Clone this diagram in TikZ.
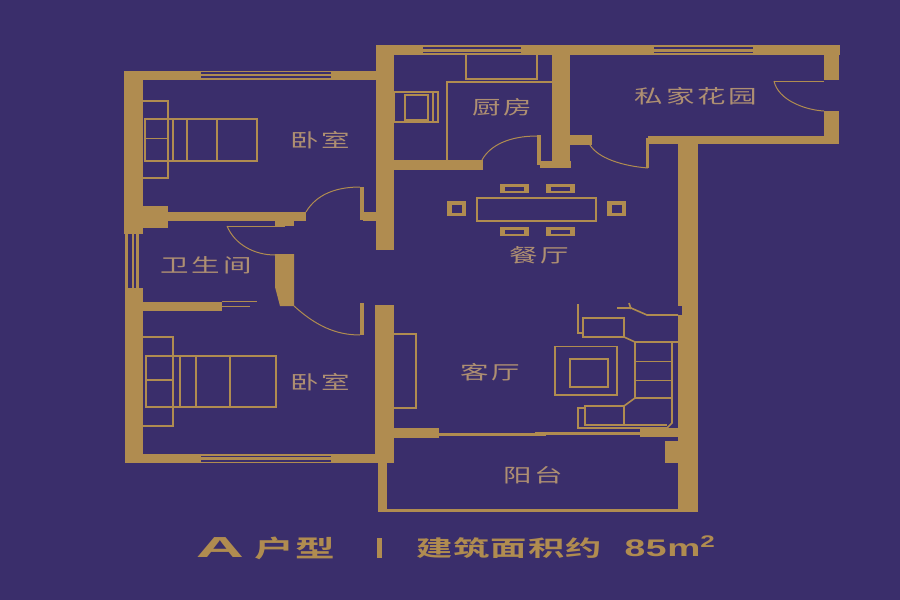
\documentclass[tikz,border=0pt]{standalone}
\usepackage{fontspec}
\newfontfamily\roomfont[FakeStretch=1.5,LetterSpace=15]{Noto Sans CJK SC}
\newfontfamily\titlefont[FakeStretch=1.65,LetterSpace=5]{Noto Sans CJK SC Bold}
\newfontfamily\latinfont[FakeStretch=1.55,LetterSpace=3]{Liberation Sans Bold}
\newfontfamily\capfont[FakeStretch=2.3]{Liberation Sans Bold}
\definecolor{ink}{HTML}{3A2E6B}
\definecolor{gold}{HTML}{B08C50}
\definecolor{lettering}{HTML}{AE8F72}
\tikzset{
    wall/.style = {fill = gold},
    glass/.style = {fill = ink},
    furn/.style = {draw = gold, line width = 1.6pt},
    thinline/.style = {draw = gold, line width = 1pt},
    roomlabel/.style = {text = lettering, inner sep = 0pt, font = \roomfont\fontsize{19}{19}\selectfont},
    titlelabel/.style = {text = gold, inner sep = 0pt, font = \titlefont\fontsize{22}{22}\selectfont}
}
\begin{document}
\begin{tikzpicture}[x = 1pt, y = -1pt]
    \fill[ink] (0,0) rectangle (900,600);
    \useasboundingbox (0,0) rectangle (900,600);
    % walls
    \foreach \xa/\ya/\xb/\yb in {
        124/71/143/234, 125/288/143/463, 124/71/376/80, 125/454/394/463,
        376/45/394/250, 375/305/394/463, 376/45/840/55,
        143/206/168/228, 168/212/306/221, 275/221/294/226,
        360/187/364/220, 363/212/376/221, 360/303/364/335,
        143/302/222/311, 394/160/483/170,
        552/55/570/168, 540/161/571/168, 537/135/541/165, 570/135/592/145,
        824/55/839/80, 824/111/839/144, 648/136/839/144, 646/138/649/168,
        678/144/698/512, 394/428/439/438, 640/428/678/437, 665/441/678/463,
        378/463/387/512, 378/509/698/512, 439/433/546/436, 535/432/640/435,
        125/234/139/288} {
        \fill[wall] (\xa,\ya) rectangle (\xb,\yb);
    }
    \fill[wall] (275,254) -- (294,254) -- (294,306) -- (280,306) -- (275,287) -- cycle;
    % windows
    \foreach \xa/\ya/\xb/\yb in {
        201/72/331/74, 201/76/331/77.5, 201/455.5/331/457, 201/460/331/461.5,
        423/46.5/521/48.5, 423/51.5/521/52.5, 654/46.5/753/48.5, 654/51.5/753/52.5,
        127.7/234/131.7/288, 133.7/234/135.5/288, 678/306/682/315} {
        \fill[glass] (\xa,\ya) rectangle (\xb,\yb);
    }
    % doors
    \draw[thinline] (306,212) .. controls (316,195) and (335,187) .. (360,187);
    \draw[thinline] (227,226) -- (285,226);
    \draw[thinline] (227,226) .. controls (235,245) and (255,255) .. (275,255);
    \draw[thinline] (294,306) .. controls (315,325) and (335,335) .. (360,335);
    \draw[thinline] (482,160) .. controls (490,145) and (510,136) .. (537,136);
    \draw[thinline] (590,145) .. controls (598,158) and (622,166) .. (648,168);
    \draw[thinline] (774,81) -- (824,81);
    \draw[thinline] (774,81) .. controls (778,100) and (805,110) .. (824,111);
    \draw[thinline] (222,301.5) -- (257,301.5);
    \draw[thinline] (222,306) -- (250,306);
    % beds
    \draw[furn] (143,101) -- (168,101) -- (168,178) -- (143,178);
    \draw[furn] (145,119) rectangle (257,161);
    \draw[furn] (145,138.5) -- (168,138.5);
    \foreach \xa in {173,187,217} {
        \draw[furn] (\xa,119) -- (\xa,161);
    }
    \draw[furn] (143,337) -- (173,337) -- (173,426) -- (143,426);
    \draw[furn] (146,356) rectangle (276,407);
    \draw[furn] (146,380) -- (173,380);
    \foreach \xa in {180,196,230} {
        \draw[furn] (\xa,356) -- (\xa,407);
    }
    % kitchen
    \draw[furn] (447,161) -- (447,82) -- (552,82);
    \draw[furn] (466,55) -- (466,79) -- (537,79) -- (537,55);
    \draw[furn] (394,92) rectangle (438,122);
    \draw[furn] (405,95) rectangle (428,120);
    \draw[furn] (433,92) -- (433,122);
    % dining
    \draw[line width = 2.4pt, gold] (477,198) rectangle (596,221);
    \foreach \xa in {500,546} {
        \foreach \ya in {184,227} {
            \fill[wall] (\xa,\ya) rectangle +(29,9);
            \fill[glass] (\xa+5,\ya+2.5) rectangle +(19,4);
        }
    }
    \foreach \xa in {447,607} {
        \fill[wall] (\xa,201) rectangle +(19,15);
        \fill[glass] (\xa+5,205) rectangle +(10,8);
    }
    % living
    \draw[furn] (394,334) -- (416,334) -- (416,408) -- (394,408);
    \draw[furn] (555,346.5) rectangle (617,395);
    \draw[line width = 2.4pt, gold] (570,359) rectangle (608,387);
    \draw[furn] (583,318) rectangle (624,337);
    \draw[furn] (585,406) rectangle (624,425);
    \draw[furn] (624,337) -- (635,342) -- (635,398) -- (624,406);
    \draw[furn] (635,342) -- (678,342);
    \draw[furn] (672,342) -- (672,423) -- (667,428) -- (578,428) -- (578,408) -- (585,408);
    \draw[furn] (624,425) -- (667,425);
    \draw[thinline] (635,361) -- (672,361);
    \draw[thinline] (635,380) -- (672,380);
    \draw[furn] (635,398) -- (672,398);
    \draw[line width = 2pt, gold] (578,304) -- (578,333) -- (583,333);
    \draw[furn] (617,308) -- (631,308) -- (647,315) -- (678,315);
    \draw[furn] (629,303) -- (631,309);
    % labels
    \node[roomlabel] (bedroomA) at (320,140) {卧室};
    \node[roomlabel] (kitchen) at (502,107) {厨房};
    \node[roomlabel] (garden) at (696,96) {私家花园};
    \node[roomlabel] (dining) at (539,255) {餐厅};
    \node[roomlabel] (bath) at (206,265) {卫生间};
    \node[roomlabel] (bedroomB) at (320,382) {卧室};
    \node[roomlabel] (living) at (490,372) {客厅};
    \node[roomlabel] (balcony) at (533,475) {阳台};
    % caption
    \node[text = gold, inner sep = 0pt, font = \capfont\fontsize{29}{29}\selectfont] (plantype) at (220,548) {A};
    \node[titlelabel, font = \titlefont\fontsize{24}{24}\selectfont] (plantitle) at (295,548) {户型};
    \fill[wall] (377,538) rectangle (382,558);
    \node[titlelabel] (planarea) at (509,548) {建筑面积约};
    \node[text = gold, inner sep = 0pt, font = \latinfont\fontsize{24}{24}\selectfont] (plansize) at (670,546) {85m\textsuperscript{2}};
\end{tikzpicture}
\end{document}
